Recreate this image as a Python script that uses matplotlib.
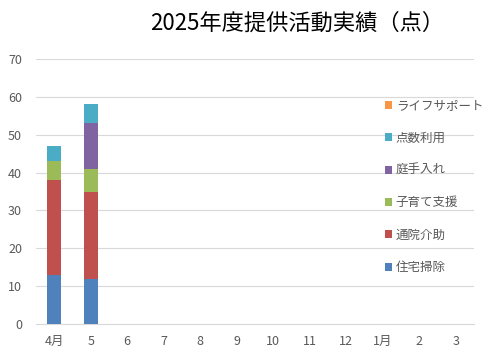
import matplotlib
matplotlib.use('Agg')
import matplotlib.pyplot as plt
import numpy as np

plt.rcParams['font.family'] = ['Noto Sans CJK JP', 'DejaVu Sans']

months = ['4月', '5', '6', '7', '8', '9', '10', '11', '12', '1月', '2', '3']
series = ['住宅掃除', '通院介助', '子育て支援', '庭手入れ', '点数利用', 'ライフサポート']
colors = ['#4F81BD', '#C0504D', '#9BBB59', '#8064A2', '#4BACC6', '#F79646']

jutaku = [13, 12, 0, 0, 0, 0, 0, 0, 0, 0, 0, 0]
tsuin = [25, 23, 0, 0, 0, 0, 0, 0, 0, 0, 0, 0]
kosodate = [5, 6, 0, 0, 0, 0, 0, 0, 0, 0, 0, 0]
niwa = [0, 12, 0, 0, 0, 0, 0, 0, 0, 0, 0, 0]
tensu = [4, 5, 0, 0, 0, 0, 0, 0, 0, 0, 0, 0]
life = [0, 0, 0, 0, 0, 0, 0, 0, 0, 0, 0, 0]
values = [jutaku, tsuin, kosodate, niwa, tensu, life]

fig = plt.figure(figsize=(5, 3.57), dpi=100)
ax = fig.add_axes([0.072, 0.092, 0.876, 0.743])

x = np.arange(len(months))
bottom = np.zeros(len(months))
handles = []
for name, vals, c in zip(series, values, colors):
    b = ax.bar(x, vals, 0.38, bottom=bottom, color=c, label=name, zorder=3)
    handles.append(b)
    bottom += np.array(vals)

ax.set_xlim(-0.5, len(months) - 0.5)
ax.set_ylim(0, 70)
ax.set_yticks(range(0, 71, 10))
ax.set_xticks(x)
ax.set_xticklabels(months)
ax.grid(axis='y', color='#D9D9D9', linewidth=0.8, zorder=0)
for s in ['top', 'right', 'left']:
    ax.spines[s].set_visible(False)
ax.spines['bottom'].set_color('#D9D9D9')
ax.tick_params(length=0, colors='#595959', labelsize=9)
ax.tick_params(axis='x', pad=8)
ax.tick_params(axis='y', pad=10)

leg = ax.legend(handles[::-1], series[::-1], loc='upper left', bbox_to_anchor=(0.77, 0.89),
                frameon=False, fontsize=9, handlelength=0.6, handleheight=0.6,
                handletextpad=0.3, labelspacing=1.55, labelcolor='#595959')

fig.text(0.595, 0.935, '2025年度提供活動実績（点）', ha='center', va='center', fontsize=16, color='black')

fig.savefig('out.png', dpi=100)
